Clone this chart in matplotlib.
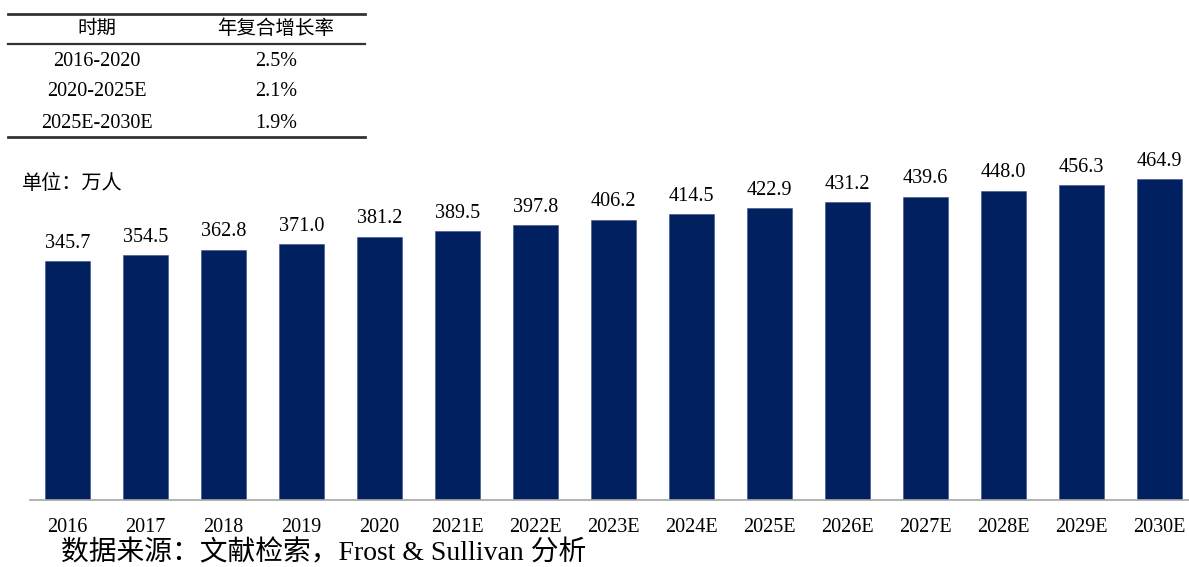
import matplotlib
matplotlib.use("Agg")
import matplotlib.pyplot as plt
from matplotlib.lines import Line2D

plt.rcParams['font.family'] = ['Liberation Serif', 'Noto Sans CJK SC']

# data
years = ['2016', '2017', '2018', '2019', '2020', '2021E', '2022E', '2023E',
         '2024E', '2025E', '2026E', '2027E', '2028E', '2029E', '2030E']
values = [345.7, 354.5, 362.8, 371.0, 381.2, 389.5, 397.8, 406.2,
          414.5, 422.9, 431.2, 439.6, 448.0, 456.3, 464.9]

periods = ['2016-2020', '2020-2025E', '2025E-2030E']
cagr = ['2.5%', '2.1%', '1.9%']

W, H = 1189, 567
fig = plt.figure(figsize=(W / 100, H / 100), dpi=100)

# bar axes, placed in pixels
ax_left, ax_bottom, ax_right, ax_top = 30, 500, 1189, 141
ax = fig.add_axes([ax_left / W, (H - ax_bottom) / H,
                   (ax_right - ax_left) / W, (ax_bottom - ax_top) / H])

x = list(range(len(years)))
ax.bar(x, values, width=0.58, color='#002060', edgecolor='#3a4f86', linewidth=0.4)
for xi, v in zip(x, values):
    ax.annotate(f'{v:.1f}', (xi, v), xytext=(0, 6), textcoords='offset points',
                ha='center', va='bottom', fontsize=14.5)

ax.set_xlim(-0.48, 14.38)
ax.set_ylim(0, 520)
ax.set_xticks(x)
ax.set_xticklabels(years, fontsize=14.5)
ax.tick_params(axis='x', length=0, pad=13)
ax.set_yticks([])
for s in ['top', 'right', 'left']:
    ax.spines[s].set_visible(False)
ax.spines['bottom'].set_color('#a6a6a6')
ax.spines['bottom'].set_linewidth(1.2)

# helper: figure pixel coords -> figure fraction
def fx(px):
    return px / W

def fy(py):
    return (H - py) / H

# CAGR table
tbl_l, tbl_r = 8, 365
for yy, lw in [(14, 2.0), (44, 1.6), (137, 2.0)]:
    fig.add_artist(Line2D([fx(tbl_l), fx(tbl_r)], [fy(yy), fy(yy)],
                          color='#333333', linewidth=lw))
col1, col2 = 97, 276
fig.text(fx(col1), fy(29), '时期', ha='center', va='center', fontsize=14)
fig.text(fx(col2), fy(29), '年复合增长率', ha='center', va='center', fontsize=14)
for i, (p, c) in enumerate(zip(periods, cagr)):
    yy = 61 + i * 31
    fig.text(fx(col1), fy(yy), p, ha='center', va='center', fontsize=14.5)
    fig.text(fx(col2), fy(yy), c, ha='center', va='center', fontsize=14.5)

fig.text(fx(22), fy(184), '单位：万人', ha='left', va='center', fontsize=14.5)
fig.text(fx(61), fy(553), '数据来源：文献检索，Frost & Sullivan 分析',
         ha='left', va='center', fontsize=20)

fig.savefig('out.png', dpi=100)
